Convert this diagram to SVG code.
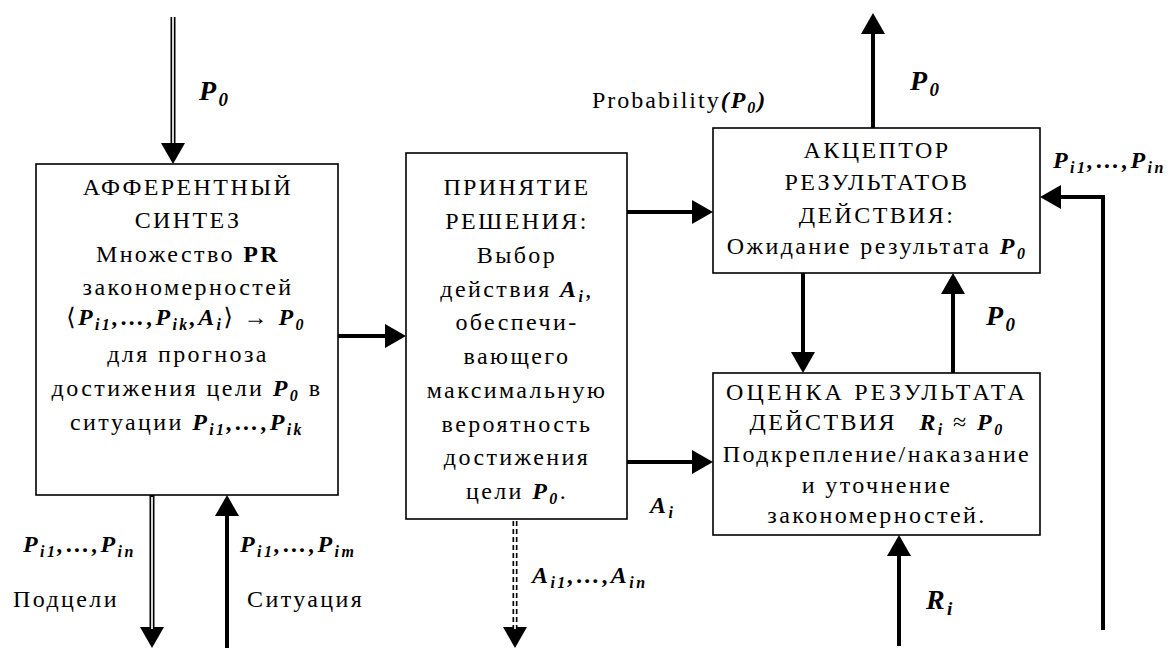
<svg xmlns="http://www.w3.org/2000/svg" width="1170" height="648" viewBox="0 0 1170 648">
<style>
.t{font-family:"Liberation Serif","DejaVu Serif",serif;font-size:24px;letter-spacing:2.4px;fill:#000;text-anchor:middle}
.l{font-family:"Liberation Serif","DejaVu Serif",serif;font-size:24px;letter-spacing:2.4px;fill:#000}
.big{font-size:28px}
.m{font-weight:bold;font-style:italic}
.b{font-weight:bold}
.s{font-size:16px}
.sb{font-size:19px}
.box{fill:#fff;stroke:#000;stroke-width:1.6}
.th{fill:none;stroke:#000;stroke-width:4}
.dbl{fill:none;stroke:#000;stroke-width:5}
.inner{fill:none;stroke:#fff;stroke-width:1.7}
.dash{stroke-dasharray:5 3}
</style>
<defs>
<marker id="ah" markerUnits="userSpaceOnUse" markerWidth="22" markerHeight="24" refX="0" refY="12" orient="auto" overflow="visible">
<path d="M0,0 L21,12 L0,24 z" fill="#000"/>
</marker>
</defs>

<g id="connectors">
<path class="dbl" d="M173,17 V143" marker-end="url(#ah)"/>
<path class="inner" d="M173,15 V143"/>
<path class="dbl" d="M152,495 V627" marker-end="url(#ah)"/>
<path class="inner" d="M152,497 V629"/>
<path class="th" d="M227,648 V516" marker-end="url(#ah)"/>
<path class="th" d="M336,336 H385" marker-end="url(#ah)"/>
<path class="th" d="M627,212 H692" marker-end="url(#ah)"/>
<path class="th" d="M627,462 H692" marker-end="url(#ah)"/>
<path class="dbl dash" d="M515,521 V627" marker-end="url(#ah)"/>
<path class="inner" d="M515,520 V629"/>
<path class="th" d="M873,128 V34" marker-end="url(#ah)"/>
<path class="th" d="M803,273 V352" marker-end="url(#ah)"/>
<path class="th" d="M953,373 V294" marker-end="url(#ah)"/>
<path class="th" d="M899,646 V556" marker-end="url(#ah)"/>
<path class="th" d="M1103,630 V197 H1061" marker-end="url(#ah)"/>
</g>

<g id="afferent">
<rect class="box" x="36" y="164" width="302" height="331"/>
<text class="t" x="188" y="195">АФФЕРЕНТНЫЙ</text>
<text class="t" x="188" y="228">СИНТЕЗ</text>
<text class="t" x="188" y="262">Множество <tspan class="b">PR</tspan></text>
<text class="t" x="188" y="295">закономерностей</text>
<text class="t" x="186" y="325">⟨<tspan class="m">P<tspan class="s" dy="5">i1</tspan><tspan dy="-5">,…,P</tspan><tspan class="s" dy="5">ik</tspan><tspan dy="-5">,A</tspan><tspan class="s" dy="5">i</tspan></tspan><tspan dy="-5">⟩ → </tspan><tspan class="m">P<tspan class="s" dy="5">0</tspan></tspan></text>
<text class="t" x="188" y="362">для прогноза</text>
<text class="t" x="187" y="396">достижения цели <tspan class="m">P<tspan class="s" dy="5">0</tspan></tspan><tspan dy="-5"> в</tspan></text>
<text class="t" x="187" y="430">ситуации <tspan class="m">P<tspan class="s" dy="5">i1</tspan><tspan dy="-5">,…,P</tspan><tspan class="s" dy="5">ik</tspan></tspan></text>
</g>

<g id="decision">
<rect class="box" x="406" y="153" width="221" height="366"/>
<text class="t" x="517" y="195">ПРИНЯТИЕ</text>
<text class="t" x="517" y="229">РЕШЕНИЯ:</text>
<text class="t" x="517" y="263">Выбор</text>
<text class="t" x="517" y="297">действия <tspan class="m">A<tspan class="s" dy="5">i</tspan></tspan><tspan dy="-5">,</tspan></text>
<text class="t" x="517" y="330">обеспечи-</text>
<text class="t" x="517" y="364">вающего</text>
<text class="t" x="517" y="398">максимальную</text>
<text class="t" x="517" y="432">вероятность</text>
<text class="t" x="517" y="465">достижения</text>
<text class="t" x="517" y="499">цели <tspan class="m">P<tspan class="s" dy="5">0</tspan></tspan><tspan dy="-5">.</tspan></text>
</g>

<g id="acceptor">
<rect class="box" x="713" y="128" width="327" height="145"/>
<text class="t" x="877" y="158">АКЦЕПТОР</text>
<text class="t" x="877" y="190">РЕЗУЛЬТАТОВ</text>
<text class="t" x="877" y="223">ДЕЙСТВИЯ:</text>
<text class="t" x="877" y="254">Ожидание результата <tspan class="m">P<tspan class="s" dy="5">0</tspan></tspan></text>
</g>

<g id="evaluation">
<rect class="box" x="713" y="373" width="327" height="162"/>
<text class="t" x="877" y="400" style="letter-spacing:3.2px">ОЦЕНКА РЕЗУЛЬТАТА</text>
<text class="t" x="877" y="430">ДЕЙСТВИЯ <tspan class="m" dx="14">R<tspan class="s" dy="5">i</tspan></tspan><tspan dy="-5"> ≈ </tspan><tspan class="m">P<tspan class="s" dy="5">0</tspan></tspan></text>
<text class="t" x="877" y="462">Подкрепление/наказание</text>
<text class="t" x="877" y="493">и уточнение</text>
<text class="t" x="877" y="523">закономерностей.</text>
</g>

<g id="labels">
<text class="l m big" x="199" y="100">P<tspan class="sb" dy="6">0</tspan></text>
<text class="l m big" x="910" y="90">P<tspan class="sb" dy="6">0</tspan></text>
<text class="l m big" x="986" y="325">P<tspan class="sb" dy="6">0</tspan></text>
<text class="l m big" x="926" y="609">R<tspan class="sb" dy="6">i</tspan></text>
<text class="l" x="592" y="108" style="letter-spacing:2px">Probability<tspan class="m">(P<tspan class="s" dy="5">0</tspan><tspan dy="-5">)</tspan></tspan></text>
<text class="l m" x="1053" y="168">P<tspan class="s" dy="5">i1</tspan><tspan dy="-5">,…,P</tspan><tspan class="s" dy="5">in</tspan></text>
<text class="l m" x="23" y="552">P<tspan class="s" dy="5">i1</tspan><tspan dy="-5">,…,P</tspan><tspan class="s" dy="5">in</tspan></text>
<text class="l m" x="240" y="552">P<tspan class="s" dy="5">i1</tspan><tspan dy="-5">,…,P</tspan><tspan class="s" dy="5">im</tspan></text>
<text class="l" x="13" y="607">Подцели</text>
<text class="l" x="247" y="607">Ситуация</text>
<text class="l m" x="650" y="513">A<tspan class="s" dy="5">i</tspan></text>
<text class="l m" x="532" y="583">A<tspan class="s" dy="5">i1</tspan><tspan dy="-5">,…,A</tspan><tspan class="s" dy="5">in</tspan></text>
</g>
</svg>
